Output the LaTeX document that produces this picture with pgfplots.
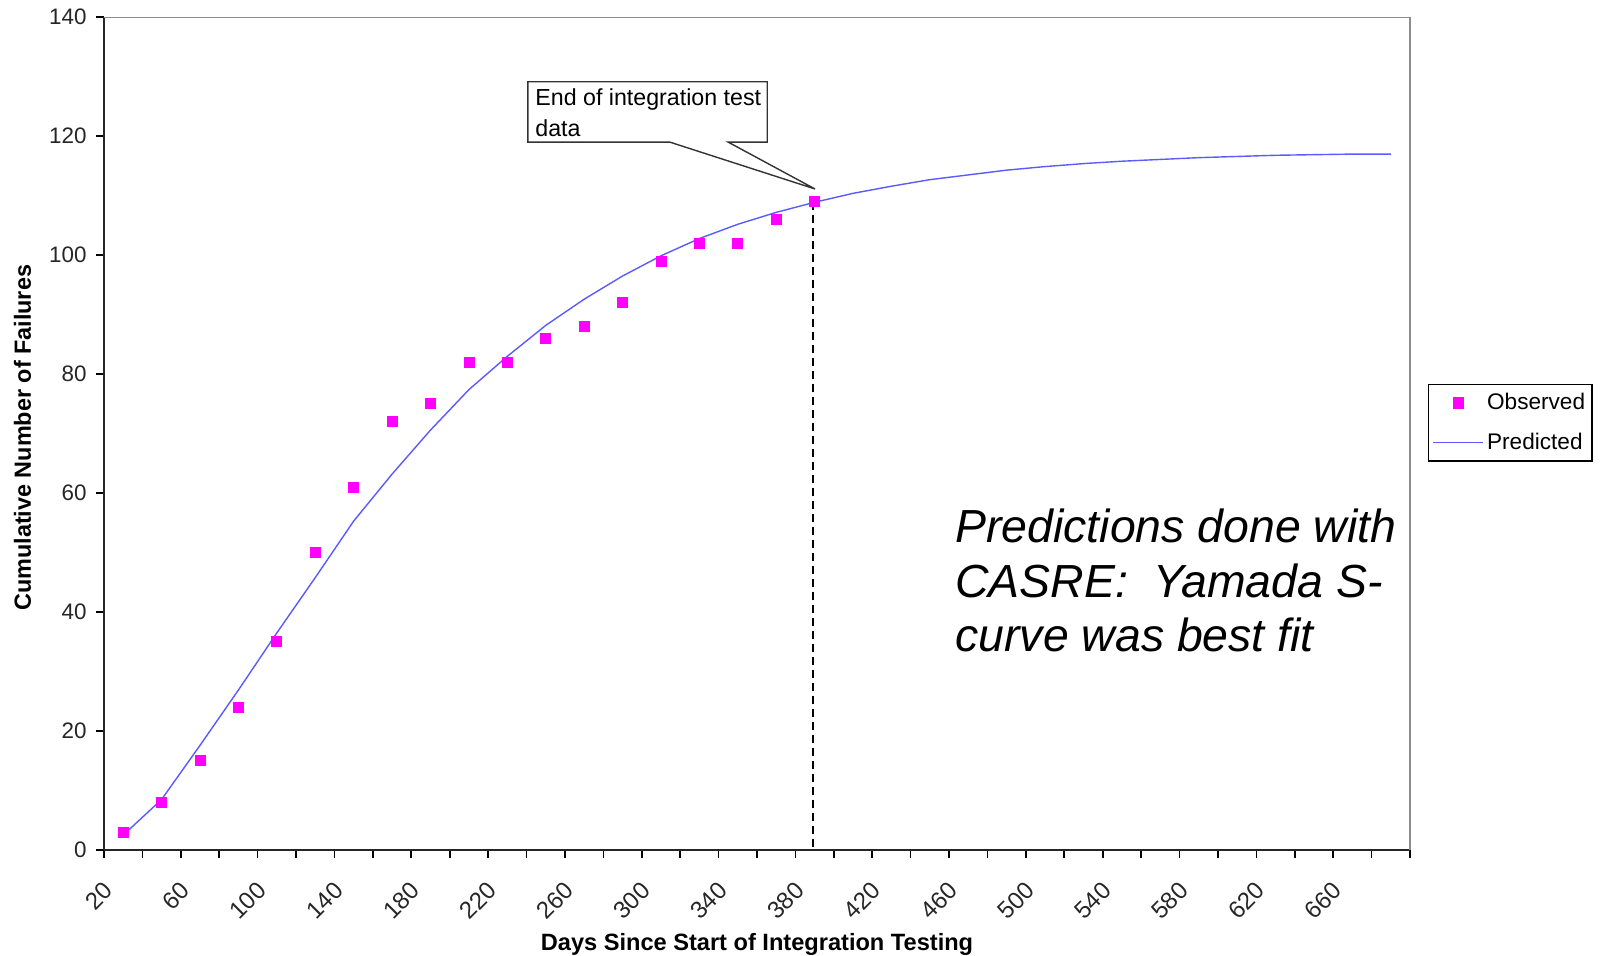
\documentclass[border=0pt]{standalone}
\usepackage{fontspec}
\setmainfont{Liberation Sans}
\usepackage{pgfplots}
\pgfplotsset{compat=1.18}
\definecolor{obs}{RGB}{255,0,255}
\definecolor{pred}{RGB}{90,90,255}
\pgfplotsset{
  obsleg/.style={legend image code/.code={\draw[mark repeat=2,mark phase=2,##1] plot coordinates {(0pt,0pt) (12.5pt,0pt) (25pt,0pt)};}},
  predleg/.style={legend image code/.code={\draw[##1] (0pt,0pt) -- (25pt,0pt);}},
}
\pgfplotstableread{
x y
20 3
40 8
60 15
80 24
100 35
120 50
140 61
160 72
180 75
200 82
220 82
240 86
260 88
280 92
300 99
320 102
340 102
360 106
380 109
}\observed
\pgfplotstableread{
x y
20 2.5
40 8.5
60 17.6
80 26.9
100 36.5
120 45.8
140 55.3
160 63.2
180 70.6
200 77.4
220 83.0
240 88.2
260 92.6
280 96.5
300 99.9
320 102.8
340 105.2
360 107.2
380 108.9
400 110.4
420 111.6
440 112.7
460 113.5
480 114.3
500 114.9
520 115.4
540 115.8
560 116.1
580 116.4
600 116.6
620 116.8
640 116.9
660 117.0
680 117.0
}\predicted
\begin{document}
\begin{tikzpicture}
\useasboundingbox (0,0) rectangle (802pt,478pt);
\begin{axis}[
  at={(52pt,53pt)}, anchor=south west, scale only axis,
  width=653pt, height=416.35pt,
  xmin=10, xmax=690, ymin=0, ymax=140,
  clip=false,
  axis x line*=bottom, axis y line*=left,
  axis line style={line width=0.9pt, black!85},
  tick align=outside,
  major tick length=4pt,
  xtick={10,30,...,690},
  xticklabels={},
  extra x ticks={20,60,...,660},
  extra x tick style={major tick length=0pt,
     xticklabel style={xshift=-10.5pt, yshift=-15pt, rotate=45, anchor=north east, inner sep=0pt,
       font=\fontsize{12}{14}\selectfont}},
  ytick={0,20,...,140},
  every tick/.style={black, line width=0.8pt},
  /pgf/number format/assume math mode=true,
  ticklabel style={font=\fontsize{11.2}{13}\selectfont, text=black!85},
  yticklabel style={anchor=east, inner sep=0pt, xshift=-4.5pt},
  xlabel={Days Since Start of Integration Testing},
  xlabel style={at={(axis description cs:0.5,-0.1201)}, anchor=base, font=\bfseries\fontsize{11.8}{14}\selectfont},
  ylabel={Cumulative Number of Failures},
  ylabel style={at={(axis description cs:-0.0624,0.495)}, anchor=center, inner sep=0pt, font=\bfseries\fontsize{11.7}{14}\selectfont},
  legend style={at={(1.0138,0.5601)}, anchor=north west, draw=black, line width=0.7pt, fill=white,
     font=\fontsize{11.3}{13}\selectfont, inner xsep=2pt, inner ysep=3pt, row sep=7pt,
     nodes={inner sep=1.5pt}},
  legend cell align=left,
]
\addplot[black, line width=1.2pt, dash pattern=on 4pt off 2.5pt, forget plot] coordinates {(379,109) (379,0)};
\addplot[only marks, mark=square*, mark size=2.5pt, draw=obs, fill=obs, mark options={draw=obs, fill=obs}, obsleg]
  table[x=x,y=y] {\observed};
\addlegendentry{Observed}
\addplot[pred, line width=0.7pt, no marks, predleg]
  table[x=x,y=y] {\predicted};
\addlegendentry{Predicted}
\draw[black!45, line width=0.6pt] (rel axis cs:0,1) -- (rel axis cs:1,1) -- (rel axis cs:1,0);
\end{axis}
% callout
\draw[black!80, line width=0.7pt, fill=white]
  (263.9pt,406.9pt) -- (335pt,406.9pt) -- (407.5pt,383.5pt) -- (364.15pt,406.9pt) -- (383.6pt,406.9pt)
  -- (383.6pt,437.1pt) -- (263.9pt,437.1pt) -- cycle;
\node[anchor=base west, inner sep=0pt, font=\fontsize{11.6}{14}\selectfont] at (267.5pt,425.2pt) {End of integration test};
\node[anchor=base west, inner sep=0pt, font=\fontsize{11.6}{14}\selectfont] at (267.5pt,409.8pt) {data};
% note
\node[anchor=base west, inner sep=0pt, font=\fontsize{23.2}{27}\selectfont\itshape] at (477.5pt,206.5pt) {Predictions done with};
\node[anchor=base west, inner sep=0pt, font=\fontsize{23.2}{27}\selectfont\itshape] at (477.5pt,179.3pt) {CASRE:\ \ Yamada S-};
\node[anchor=base west, inner sep=0pt, font=\fontsize{23.2}{27}\selectfont\itshape] at (477.5pt,152pt) {curve was best fit};
\end{tikzpicture}
\end{document}
